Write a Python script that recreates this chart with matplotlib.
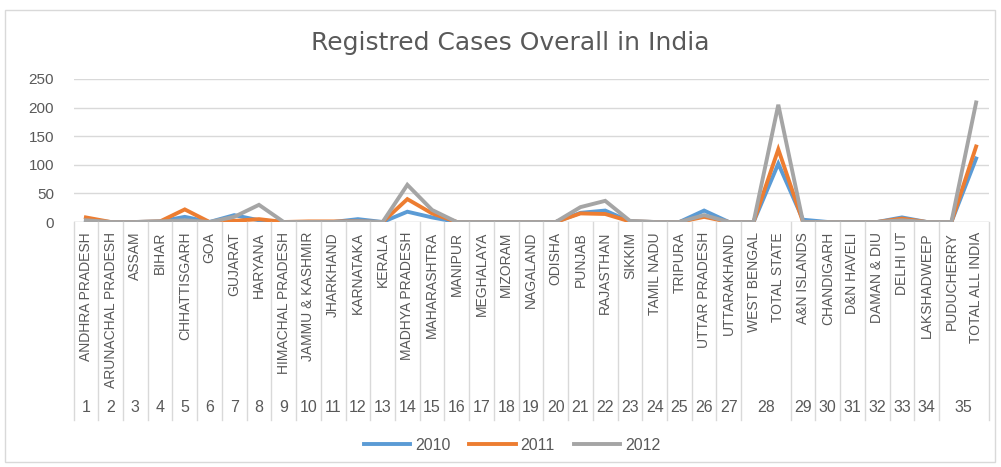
import matplotlib.pyplot as plt
from matplotlib.patches import Rectangle
from matplotlib.transforms import blended_transform_factory
import numpy as np

states = ['ANDHRA PRADESH', 'ARUNACHAL PRADESH', 'ASSAM', 'BIHAR', 'CHHATTISGARH', 'GOA',
          'GUJARAT', 'HARYANA', 'HIMACHAL PRADESH', 'JAMMU & KASHMIR', 'JHARKHAND',
          'KARNATAKA', 'KERALA', 'MADHYA PRADESH', 'MAHARASHTRA', 'MANIPUR', 'MEGHALAYA',
          'MIZORAM', 'NAGALAND', 'ODISHA', 'PUNJAB', 'RAJASTHAN', 'SIKKIM', 'TAMIL NADU',
          'TRIPURA', 'UTTAR PRADESH', 'UTTARAKHAND', 'WEST BENGAL', 'TOTAL STATE',
          'A&N ISLANDS', 'CHANDIGARH', 'D&N HAVELI', 'DAMAN & DIU', 'DELHI UT',
          'LAKSHADWEEP', 'PUDUCHERRY', 'TOTAL ALL INDIA']
# outer level: group number and how many states it spans
group_labels = [str(i) for i in range(1, 36)]
group_sizes = [1] * 27 + [2] + [1] * 6 + [2]

y2010 = [2, 0, 0, 1, 9, 0, 12, 3, 0, 0, 0, 5, 0, 18, 8, 0, 0, 0, 0, 0, 16, 20, 1, 0, 0,
         20, 0, 0, 102, 4, 0, 0, 0, 8, 0, 0, 111]
y2011 = [8, 0, 0, 1, 22, 0, 2, 5, 0, 1, 1, 1, 0, 40, 15, 0, 0, 0, 0, 0, 15, 14, 1, 0, 0,
         9, 0, 0, 127, 0, 0, 0, 0, 6, 0, 0, 132]
y2012 = [3, 0, 0, 1, 3, 0, 9, 30, 0, 0, 0, 1, 0, 65, 21, 0, 0, 0, 0, 0, 26, 37, 2, 0, 0,
         12, 0, 0, 205, 0, 0, 0, 0, 3, 0, 0, 209]

W, H = 1001, 467
fig = plt.figure(figsize=(W / 100, H / 100), dpi=100)
plt.rcParams['font.family'] = ['Liberation Sans Narrow', 'Liberation Sans', 'DejaVu Sans']
txt = '#595959'
grid = '#d9d9d9'

# frame around the whole chart
fig.patches.append(Rectangle((5 / W, 1 - 462 / H), 990 / W, 452 / H, transform=fig.transFigure,
                             fill=False, ec='#d9d9d9', lw=1))

left, right, y0, y250 = 73.5, 988.5, 222, 79
ax = fig.add_axes([left / W, 1 - y0 / H, (right - left) / W, (y0 - y250) / H])

x = np.arange(len(states))
ax.plot(x, y2010, color='#5B9BD5', lw=2.8, label='2010', solid_joinstyle='miter')
ax.plot(x, y2011, color='#ED7D31', lw=2.8, label='2011', solid_joinstyle='miter')
ax.plot(x, y2012, color='#A5A5A5', lw=2.8, label='2012', solid_joinstyle='miter')

ax.set_xlim(-0.5, len(states) - 0.5)
ax.set_ylim(0, 250)
ax.set_yticks(range(0, 251, 50))
ax.yaxis.grid(True, color=grid, lw=1)
ax.set_axisbelow(True)
for s in ax.spines.values():
    s.set_visible(False)
ax.tick_params(axis='y', length=0, labelsize=11, labelcolor=txt, pad=14)
ax.set_xticks([])
ax.axhline(0, color=grid, lw=1, zorder=0)

def ay(py):
    return (y0 - py) / (y0 - y250)

tr = blended_transform_factory(ax.transData, ax.transAxes)
# category labels
for i, name in enumerate(states):
    ax.text(i, ay(232), name, rotation=90, ha='center', va='top', fontsize=10,
            color=txt, transform=tr)
# group numbers and separators
pos = 0
bounds = [-0.5]
for lab, n in zip(group_labels, group_sizes):
    ax.text(pos + (n - 1) / 2, ay(407), lab, ha='center', va='center', fontsize=11.5,
            color=txt, transform=tr)
    pos += n
    bounds.append(pos - 0.5)
for b in bounds:
    ax.plot([b, b], [0, ay(420)], color=grid, lw=1, transform=tr, clip_on=False)

fig.text(510 / W, 1 - 43 / H, 'Registred Cases Overall in India', ha='center', va='center',
         fontsize=18, color=txt, family=['Liberation Sans Narrow', 'DejaVu Sans'])

fig.legend(loc='center', bbox_to_anchor=(512 / W, 1 - 445 / H), ncol=3, frameon=False,
           fontsize=11.5, labelcolor=txt, handlelength=2.9, columnspacing=1.2, handletextpad=0.3)

fig.savefig('out.png', dpi=100)
